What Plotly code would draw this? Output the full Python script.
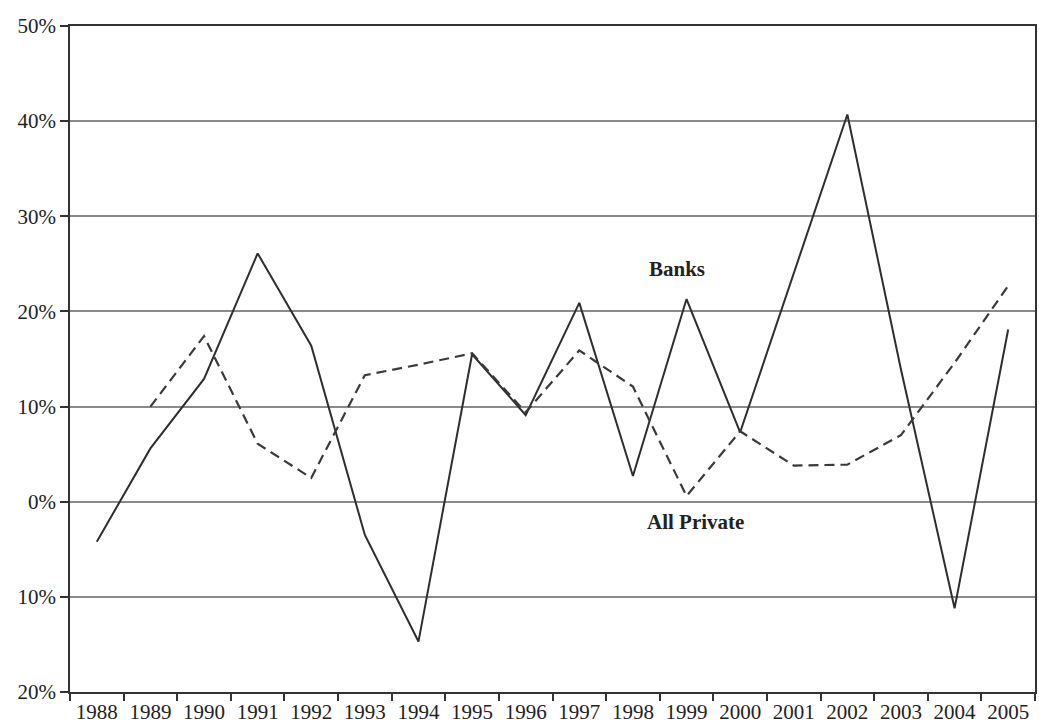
import plotly.graph_objects as go

years = [str(y) for y in range(1988, 2006)]
banks = [-4.2, 5.6, 12.9, 26.1, 16.4, -3.5, -14.7, 15.5, 9.1, 20.9, 2.7, 21.3, 7.3, 24.0, 40.7, 13.9, -11.2, 18.1]
all_private = [None, 10.0, 17.4, 6.1, 2.5, 13.3, 14.4, 15.6, 9.4, 15.9, 12.1, 0.6, 7.4, 3.8, 3.9, 7.0, 14.6, 22.7]
tick_vals = [50, 40, 30, 20, 10, 0, -10, -20]
tick_text = ["50%", "40%", "30%", "20%", "10%", "0%", "10%", "20%"]

font_family = "Liberation Serif, DejaVu Serif, serif"
line_col = "#2e2e2e"

fig = go.Figure()
fig.add_trace(go.Scatter(x=years, y=banks, mode="lines", name="Banks",
                         line=dict(color=line_col, width=2)))
fig.add_trace(go.Scatter(x=years, y=all_private, mode="lines", name="All Private",
                         line=dict(color="#3a3a3a", width=2.2, dash="10px,6px")))

fig.add_annotation(x=10.82, y=24.5, text="<b>Banks</b>", showarrow=False,
                   font=dict(family=font_family, size=21, color="#222"))
fig.add_annotation(x=11.17, y=-2.1, text="<b>All Private</b>", showarrow=False,
                   font=dict(family=font_family, size=21, color="#222"))

fig.update_layout(
    width=1039, height=726,
    margin=dict(l=70, r=2, t=26, b=30),
    paper_bgcolor="white", plot_bgcolor="white",
    showlegend=False,
    font=dict(family=font_family, size=21, color="#222"),
)
fig.update_xaxes(
    type="category", range=[-0.5, 17.5],
    showline=True, linecolor="#333", linewidth=1.5, mirror=True,
    ticks="outside", ticklen=7, tickcolor="#333", tickwidth=1.5,
    tickson="boundaries", showgrid=False,
    tickfont=dict(family=font_family, size=21, color="#222"),
)
fig.update_yaxes(
    range=[-20, 50], tickvals=tick_vals, ticktext=tick_text,
    showline=True, linecolor="#333", linewidth=1.5, mirror=True,
    ticks="outside", ticklen=8, tickcolor="#333", tickwidth=1.5,
    showgrid=True, gridcolor="#8a8a8a", gridwidth=1.5, zeroline=False,
    tickfont=dict(family=font_family, size=21, color="#222"),
)

fig.write_html("out.html", config={"displayModeBar": False},
               post_script="document.body.style.margin='0';document.body.style.overflow='hidden';")
